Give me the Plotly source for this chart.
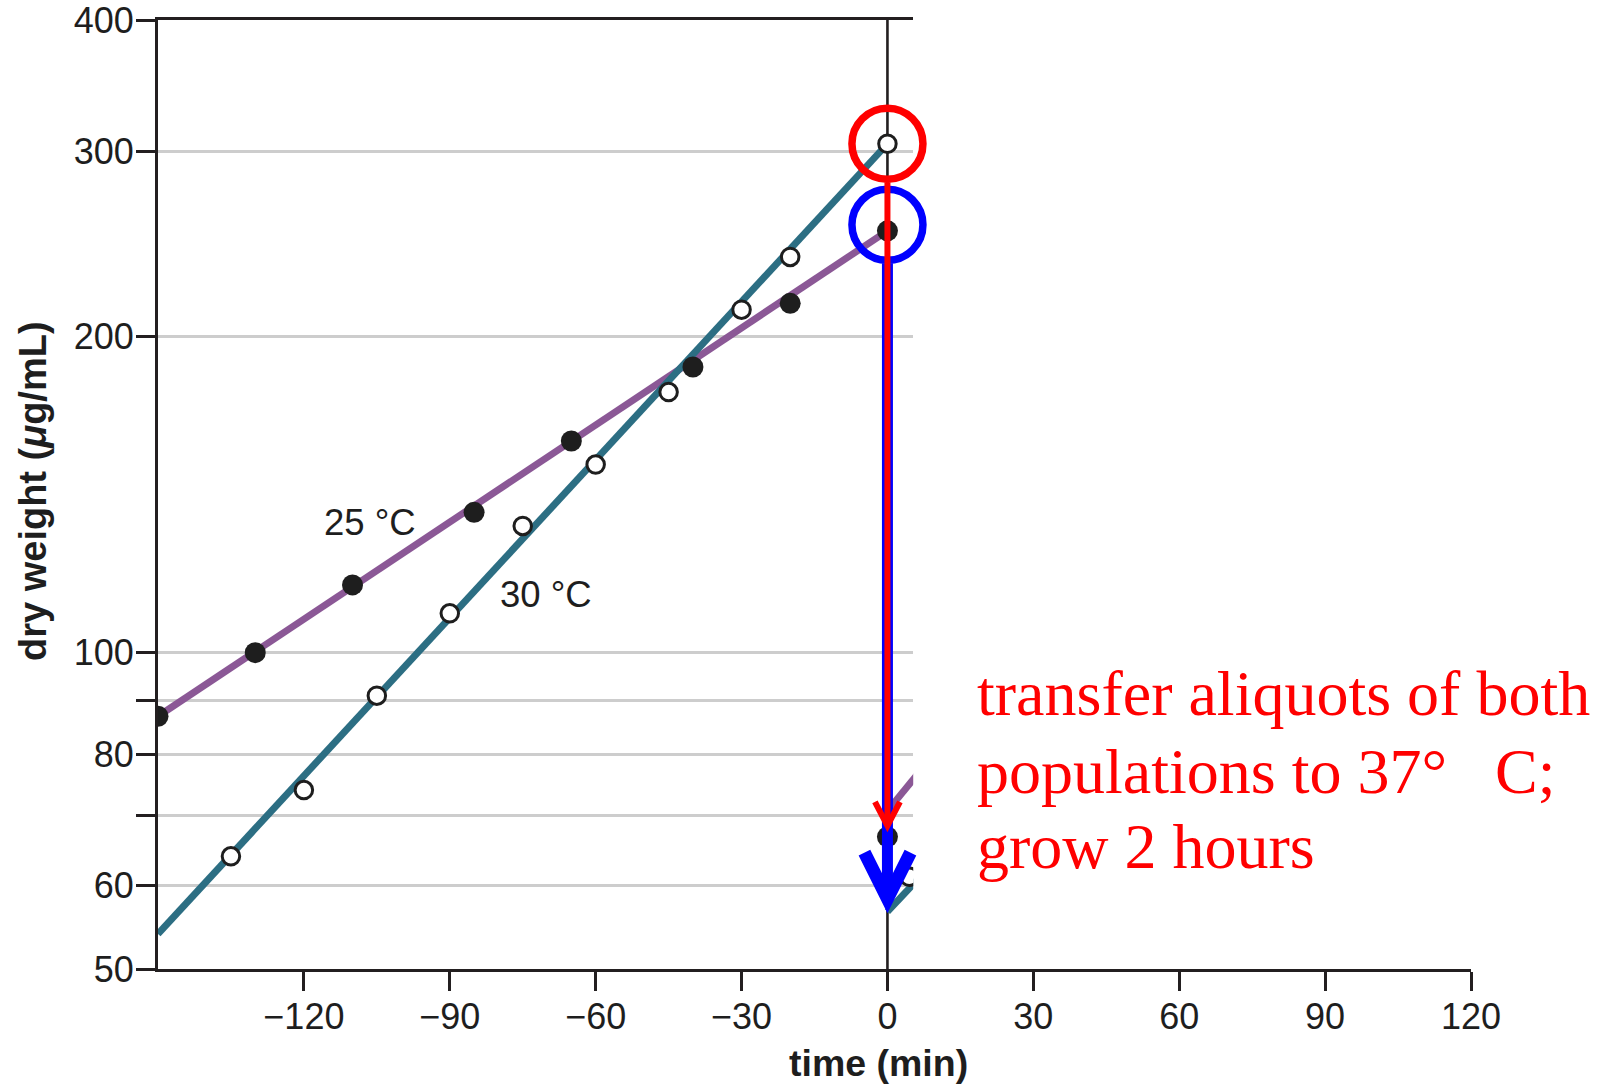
import math
import plotly.graph_objects as go

# Dry weight (ug/mL) of cultures grown at 25 °C and 30 °C, sampled over time (min)
time_25 = [-150, -130, -110, -85, -65, -40, -20, 0]
dry_25 = [87, 100, 116, 136, 159, 187, 215, 252]
time_30 = [-135, -120, -105, -90, -75, -60, -45, -30, -20, 0]
dry_30 = [64, 74, 91, 109, 132, 151, 177, 212, 238, 305]

# Exponential fits (straight lines on the log axis)
fit_time = [-150, 0]
fit_25 = [87, 252]
fit_30 = [54, 305]

# First readings after the shift to 37 °C
shift_time = [0, 10]
shift_fit_25 = [70.7, 80.5]
shift_fit_30 = [56.7, 63.5]
shift_time_25 = [0]
shift_dry_25 = [66.8]
shift_time_30 = [4.5]
shift_dry_30 = [61.2]

x_ticks = [-120, -90, -60, -30, 0, 30, 60, 90, 120]
y_ticks = [50, 60, 70, 80, 90, 100, 200, 300, 400]
y_tick_text = ["50", "60", "", "80", "", "100", "200", "300", "400"]

# ---- geometry -------------------------------------------------------------
W, H = 1604, 1084
ML, MR, MT, MB = 158, 133, 20, 115
PLOT_W, PLOT_H = W - ML - MR, H - MT - MB
X_MIN, X_MAX = -150, 120
X_VIEW = 5.3            # data window ends just after the shift
Y_MIN, Y_MAX = 50, 400
LO, HI = math.log10(Y_MIN), math.log10(Y_MAX)
DOMAIN_END = (X_VIEW - X_MIN) / (X_MAX - X_MIN)


def xpaper(t):
    return (t - X_MIN) / (X_MAX - X_MIN)


def ypaper(v):
    return (math.log10(v) - LO) / (HI - LO)


def dx(px):
    return px / PLOT_W


def dy(px):
    return px / PLOT_H


INK = "#1e1e1e"
AXIS = "#231f20"
GRID = "#cdcdcd"
PURPLE = "#8b5896"
TEAL = "#2c6e83"
FONT = "Liberation Sans"

fig = go.Figure()

line_w = 7
fig.add_trace(go.Scatter(x=fit_time, y=fit_25, mode="lines",
                         line=dict(color=PURPLE, width=line_w), hoverinfo="skip"))
fig.add_trace(go.Scatter(x=shift_time, y=shift_fit_25, mode="lines",
                         line=dict(color=PURPLE, width=line_w), hoverinfo="skip"))
fig.add_trace(go.Scatter(x=fit_time, y=fit_30, mode="lines",
                         line=dict(color=TEAL, width=line_w), hoverinfo="skip"))
fig.add_trace(go.Scatter(x=shift_time, y=shift_fit_30, mode="lines",
                         line=dict(color=TEAL, width=line_w), hoverinfo="skip"))

filled = dict(symbol="circle", size=21, color=INK, line=dict(width=0))
hollow = dict(symbol="circle", size=17.5, color="white", line=dict(color=INK, width=3))
fig.add_trace(go.Scatter(x=time_25, y=dry_25, mode="markers", marker=filled, name="25 °C"))
fig.add_trace(go.Scatter(x=shift_time_25, y=shift_dry_25, mode="markers", marker=filled))
fig.add_trace(go.Scatter(x=time_30, y=dry_30, mode="markers", marker=hollow, name="30 °C"))
fig.add_trace(go.Scatter(x=shift_time_30, y=shift_dry_30, mode="markers", marker=hollow))

# empty trace that carries the full-width time axis
fig.add_trace(go.Scatter(x=[], y=[], xaxis="x2", yaxis="y2", mode="lines",
                         hoverinfo="skip"))

shapes = []
# divider at the moment of the temperature shift
shapes.append(dict(type="line", xref="x", yref="paper", x0=0, x1=0, y0=0, y1=1,
                   line=dict(color=AXIS, width=2.6), layer="between"))

x0p = xpaper(0)

# circled readings at t = 0
R_PX = 35.5
red_c = ypaper(dry_30[-1])
blue_c = ypaper(dry_25[-1]) + dy(6)
for c, col in [(red_c, "#ff0000"), (blue_c, "#0000ff")]:
    shapes.append(dict(type="circle", xref="paper", yref="paper",
                       x0=x0p - dx(R_PX), x1=x0p + dx(R_PX),
                       y0=c - dy(R_PX), y1=c + dy(R_PX),
                       line=dict(color=col, width=7.5), layer="above"))

# blue arrow (drawn first, sits under the red one)
blue_tip = ypaper(shift_fit_30[0]) + dy(13)
shapes.append(dict(type="line", xref="paper", yref="paper", x0=x0p, x1=x0p,
                   y0=blue_c - dy(R_PX + 3), y1=blue_tip + dy(4),
                   line=dict(color="#0000ff", width=11), layer="above"))
shapes.append(dict(type="path", xref="paper", yref="paper",
                   path=(f"M {x0p - dx(23)},{blue_tip + dy(46)} L {x0p},{blue_tip} "
                         f"L {x0p + dx(23)},{blue_tip + dy(46)}"),
                   line=dict(color="#0000ff", width=13), layer="above"))

# red arrow
red_tip = ypaper(shift_dry_25[0]) + dy(11)
shapes.append(dict(type="line", xref="paper", yref="paper", x0=x0p, x1=x0p,
                   y0=red_c - dy(R_PX + 3), y1=red_tip + dy(2),
                   line=dict(color="#ff0000", width=6), layer="above"))
shapes.append(dict(type="path", xref="paper", yref="paper",
                   path=(f"M {x0p - dx(12.5)},{red_tip + dy(24)} L {x0p},{red_tip} "
                         f"L {x0p + dx(12.5)},{red_tip + dy(24)}"),
                   line=dict(color="#ff0000", width=6), layer="above"))

label_font = dict(family=FONT, size=36.5, color=INK)
annotations = [
    dict(text="25 °C", xref="paper", yref="paper", x=212 / PLOT_W, y=447 / PLOT_H,
         showarrow=False, font=label_font, xanchor="center", yanchor="middle"),
    dict(text="30 °C", xref="paper", yref="paper", x=388 / PLOT_W, y=375 / PLOT_H,
         showarrow=False, font=label_font, xanchor="center", yanchor="middle"),
    dict(text="<b>dry weight (<i>μ</i>g/mL)</b>", xref="paper", yref="paper",
         x=-125 / PLOT_W, y=478 / PLOT_H, textangle=-90, showarrow=False,
         font=dict(family=FONT, size=38, color=INK), xanchor="center", yanchor="middle"),
    dict(text="<b>time (min)</b>", xref="paper", yref="paper",
         x=720 / PLOT_W, y=-94 / PLOT_H, showarrow=False,
         font=dict(family=FONT, size=37.5, color=INK), xanchor="center", yanchor="middle"),
]

note_lines = ["transfer aliquots of both",
              "populations to 37°\u00a0\u00a0\u00a0C;",
              "grow 2 hours"]
note_centers = [693, 771, 846]
for txt, cy in zip(note_lines, note_centers):
    annotations.append(dict(text=txt, xref="paper", yref="paper",
                            x=(975 - ML) / PLOT_W, y=(H - MB - cy) / PLOT_H,
                            showarrow=False, xanchor="left", yanchor="middle",
                            font=dict(family="Liberation Serif", size=64, color="#ff0000")))

tick_font = dict(family=FONT, size=36, color=INK)
fig.update_layout(
    width=W, height=H,
    margin=dict(l=ML, r=MR, t=MT, b=MB, pad=0, autoexpand=False),
    paper_bgcolor="white", plot_bgcolor="rgba(0,0,0,0)",
    showlegend=False,
    font=dict(family=FONT, size=34, color=INK),
    xaxis=dict(domain=[0, DOMAIN_END], range=[X_MIN, X_VIEW], showline=True,
               mirror=True, linecolor=AXIS, linewidth=2.8, ticks="",
               showticklabels=False, showgrid=False, zeroline=False, automargin=False),
    yaxis=dict(type="log", range=[LO, HI], tickvals=y_ticks, ticktext=y_tick_text,
               ticks="outside", ticklen=19, tickwidth=2.8, tickcolor=AXIS,
               showline=True, linecolor=AXIS, linewidth=2.8,
               showgrid=True, gridcolor=GRID, gridwidth=2.5, zeroline=False,
               tickfont=tick_font, ticklabelstandoff=-5, automargin=False,
               ticklabeloverflow="allow"),
    xaxis2=dict(domain=[0, 1], anchor="y2", range=[X_MIN, X_MAX], tickvals=x_ticks,
                ticks="outside", ticklen=19, tickwidth=2.8, tickcolor=AXIS,
                showline=True, linecolor=AXIS, linewidth=2.8,
                showgrid=False, zeroline=False, tickfont=tick_font,
                ticklabelstandoff=-5, automargin=False, ticklabeloverflow="allow"),
    yaxis2=dict(domain=[0, 1], anchor="x2", type="log", range=[LO, HI], visible=False),
    shapes=shapes,
    annotations=annotations,
)

fig.write_html("out.html")
